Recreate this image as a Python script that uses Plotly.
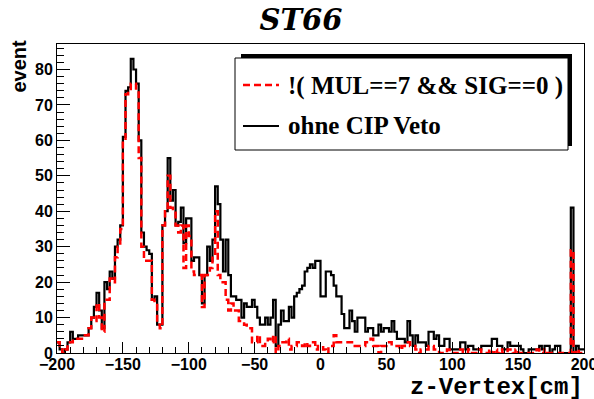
import numpy as np
import plotly.graph_objects as go

# z-vertex histogram: 200 bins of 2 cm from -200 to 200
x_min, x_max, n_bins = -200, 200, 200

# counts without the CIP veto (black, solid)
ohne_cip_veto = [
    3, 1, 0, 1, 3, 6, 4, 4, 5, 5,
    5, 5, 7, 10, 13, 17, 12, 7, 20, 18,
    23, 21, 30, 32, 36, 61, 74, 75, 83, 80,
    76, 60, 34, 30, 29, 28, 15, 16, 8, 8,
    36, 40, 55, 43, 46, 36, 37, 41, 31, 38,
    38, 26, 27, 27, 22, 14, 22, 30, 26, 32,
    47, 42, 32, 23, 32, 22, 16, 16, 15, 15,
    10, 14, 13, 13, 15, 13, 10, 8, 8, 10,
    8, 10, 15, 2, 8, 12, 9, 9, 13, 10,
    16, 17, 18, 19, 23, 24, 25, 24, 26, 26,
    16, 16, 23, 23, 22, 19, 16, 16, 11, 7,
    7, 12, 9, 6, 10, 10, 10, 6, 7, 7,
    5, 5, 8, 6, 7, 7, 6, 9, 6, 4,
    4, 4, 3, 9, 5, 2, 5, 3, 3, 3,
    2, 6, 6, 4, 5, 2, 2, 4, 4, 1,
    1, 1, 1, 3, 3, 1, 2, 2, 1, 1,
    1, 2, 2, 2, 2, 4, 4, 2, 2, 1,
    1, 3, 2, 2, 2, 2, 1, 0, 0, 1,
    1, 1, 1, 2, 1, 2, 2, 0, 1, 2,
    2, 0, 0, 0, 0, 41, 0, 2, 1, 1,
]

# counts with !( MUL==7 && SIG==0 ) (red, dashed)
not_mul7_sig0 = [
    3, 1, 0, 1, 3, 3, 4, 4, 4, 4,
    5, 5, 7, 10, 9, 14, 10, 6, 15, 15,
    21, 20, 27, 30, 35, 60, 73, 74, 76, 76,
    74, 55, 30, 26, 26, 26, 15, 14, 8, 7,
    36, 40, 50, 41, 40, 36, 34, 36, 24, 36,
    33, 23, 22, 22, 22, 13, 22, 22, 24, 28,
    40, 22, 20, 20, 15, 12, 14, 12, 12, 9,
    9, 8, 7, 7, 3, 3, 5, 2, 2, 3,
    4, 3, 5, 0, 2, 3, 3, 4, 1, 2,
    2, 3, 3, 2, 3, 2, 3, 3, 1, 2,
    2, 1, 0, 2, 2, 5, 3, 3, 3, 3,
    3, 3, 3, 2, 2, 2, 2, 3, 3, 4,
    2, 2, 0, 2, 2, 3, 3, 2, 2, 2,
    1, 2, 3, 3, 2, 2, 1, 0, 1, 1,
    1, 2, 2, 1, 1, 0, 0, 0, 1, 0,
    0, 0, 0, 1, 0, 0, 1, 0, 0, 0,
    1, 0, 0, 0, 1, 0, 1, 0, 1, 0,
    0, 1, 1, 0, 1, 0, 0, 0, 0, 0,
    0, 0, 1, 0, 0, 1, 0, 0, 0, 0,
    0, 0, 0, 0, 0, 29, 0, 1, 0, 0,
]

legend_labels = ["!( MUL==7 && SIG==0 )", "ohne CIP Veto"]
x_ticks = [-200, -150, -100, -50, 0, 50, 100, 150, 200]
y_ticks = [0, 10, 20, 30, 40, 50, 60, 70, 80]

edges = np.linspace(x_min, x_max, n_bins + 1)


def step_y(vals):
    return list(vals) + [vals[-1]]


W, H = 594, 399
ML, MR, MT, MB = 57, 10, 44, 46
PW, PH = W - ML - MR, H - MT - MB


def px(xp):
    return (xp - ML) / PW


def py(yp):
    return (H - MB - yp) / PH


fig = go.Figure()
fig.add_trace(go.Scatter(x=edges, y=step_y(ohne_cip_veto), mode="lines",
                         line=dict(color="black", width=2.2, shape="hv"),
                         showlegend=False, hoverinfo="skip"))
fig.add_trace(go.Scatter(x=edges, y=step_y(not_mul7_sig0), mode="lines",
                         line=dict(color="#ff0000", width=2.5, shape="hv", dash="7px,4px"),
                         showlegend=False, hoverinfo="skip"))

tickfont = dict(family="Liberation Sans", size=16, color="black", weight="bold")

fig.update_xaxes(range=[x_min, x_max], tickvals=x_ticks, ticks="inside", ticklen=11,
                 tickwidth=1, tickcolor="black", showline=True, linecolor="black",
                 linewidth=1, mirror=True, showgrid=False, zeroline=False,
                 tickfont=tickfont, ticklabeloverflow="allow", automargin=False,
                 ticklabelstandoff=-3,
                 minor=dict(dtick=10, ticks="inside", ticklen=6, tickcolor="black",
                            showgrid=False))
fig.update_yaxes(range=[0, 87.2], tickvals=y_ticks, ticks="inside", ticklen=13,
                 tickwidth=1, tickcolor="black", showline=True, linecolor="black",
                 linewidth=1, mirror=True, showgrid=False, zeroline=False,
                 tickfont=tickfont, ticklabelstandoff=0, ticklabeloverflow="allow",
                 automargin=False,
                 minor=dict(dtick=2, ticks="inside", ticklen=7, tickcolor="black",
                            showgrid=False))

# legend box with offset shadow
shapes = [
    dict(type="rect", xref="paper", yref="paper",
         x0=px(241), x1=px(572), y0=py(146), y1=py(54),
         fillcolor="black", line=dict(width=0)),
    dict(type="rect", xref="paper", yref="paper",
         x0=px(235), x1=px(568), y0=py(150), y1=py(58),
         fillcolor="white", line=dict(color="black", width=1)),
    dict(type="line", xref="paper", yref="paper",
         x0=px(243), x1=px(279), y0=py(85), y1=py(85),
         line=dict(color="#ff0000", width=2.5, dash="7px,4px")),
    dict(type="line", xref="paper", yref="paper",
         x0=px(243), x1=px(279), y0=py(126), y1=py(126),
         line=dict(color="black", width=2)),
]

legend_font = dict(family="Liberation Serif", size=25, color="black", weight="bold")
annotations = [
    dict(text=legend_labels[0], xref="paper", yref="paper", x=px(286), y=py(86),
         xanchor="left", yanchor="middle", showarrow=False, font=legend_font),
    dict(text=legend_labels[1], xref="paper", yref="paper", x=px(286), y=py(126),
         xanchor="left", yanchor="middle", showarrow=False, font=legend_font),
    dict(text="event", xref="paper", yref="paper", x=px(18), y=py(38),
         xanchor="center", yanchor="top", textangle=-90, showarrow=False,
         font=dict(family="Liberation Sans", size=20, color="black", weight="bold")),
    dict(text="z-Vertex[cm]", xref="paper", yref="paper", x=px(585), y=py(387),
         xanchor="right", yanchor="middle", showarrow=False,
         font=dict(family="Liberation Mono", size=24, color="black", weight="bold")),
]

fig.update_layout(
    width=W, height=H,
    margin=dict(l=ML, r=MR, t=MT, b=MB),
    paper_bgcolor="white", plot_bgcolor="white",
    title=dict(text="ST66", x=301 / W, xanchor="center", xref="container",
               y=1 - 20 / H, yanchor="middle",
               font=dict(family="DejaVu Serif", size=29, color="black",
                         weight="bold", style="italic")),
    shapes=shapes, annotations=annotations,
)

fig.write_html("out.html")
